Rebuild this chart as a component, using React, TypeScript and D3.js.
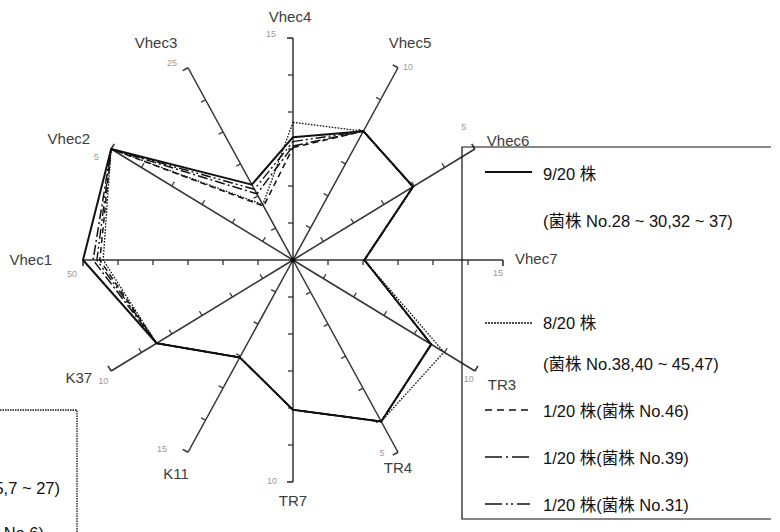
import React from "react";
import * as d3 from "d3";

// Radar axes, clockwise from the top, with the full-scale value of each axis
const axisNames = ["Vhec4", "Vhec5", "Vhec6", "Vhec7", "TR3", "TR4", "TR7", "K11", "K37", "Vhec1", "Vhec2", "Vhec3"];
const axisMax = [15, 10, 5, 15, 10, 5, 10, 15, 10, 50, 5, 25];

// Profiles of each strain group, one value per axis
const group9of20 = [8.3, 6.7, 3.3, 5.1, 7.6, 4.2, 6.75, 7.6, 7.5, 50, 5, 9.8];
const group8of20 = [9.3, 6.7, 3.3, 5.1, 8.3, 4.2, 6.75, 7.6, 7.5, 45.2, 5, 7.2];
const strain46 = [7.6, 6.7, 3.3, 5.1, 7.6, 4.2, 6.75, 7.6, 7.5, 46, 5, 7.0];
const strain39 = [7.7, 6.7, 3.3, 5.1, 7.6, 4.2, 6.75, 7.6, 7.5, 47.6, 5, 8.6];
const strain31 = [8.0, 6.7, 3.3, 5.1, 7.6, 4.2, 6.75, 7.6, 7.5, 46.7, 5, 9.2];

const legendTitles = ["9/20 株", "8/20 株", "1/20 株(菌株 No.46)", "1/20 株(菌株 No.39)", "1/20 株(菌株 No.31)"];
const legendNotes = ["(菌株 No.28 ~ 30,32 ~ 37)", "(菌株 No.38,40 ~ 45,47)"];

const W = 780;
const H = 532;
const cx = 293;
const cy = 260;
const rx = 210;
const ry = 222;
const FONT = "'Liberation Sans', Arial, 'Noto Sans CJK JP', sans-serif";

// label placement relative to each axis end: [dx, dy, anchor]
const nameOffset: [number, number, string][] = [
  [-3, -16, "middle"], [12, -20, "middle"], [12, -3, "start"], [12, 4, "start"],
  [13, 19, "start"], [0, 21, "middle"], [0, 24, "middle"], [-12, 27, "middle"],
  [-19, 12, "end"], [-31, 5, "end"], [-21, -5, "end"], [-32, -20, "middle"],
];
const maxOffset: [number, number, string][] = [
  [-17, -1, "end"], [5, 2, "start"], [-11, -19, "middle"], [-5, 16, "middle"],
  [-6, 11, "middle"], [-16, 4, "middle"], [-16, 2, "end"], [-26, 0, "middle"],
  [-13, 13, "start"], [-11, 17, "middle"], [-15, 11, "middle"], [-16, -2, "middle"],
];
// side on which tick marks sit for each of the six diameter lines
const tickSide = [1, 1, 1, -1, 1, -1];

export default function App() {
  const n = axisNames.length;
  const angle = d3.scaleLinear().domain([0, n]).range([0, 2 * Math.PI]);
  const frac = axisMax.map((m) => d3.scaleLinear().domain([0, m]).range([0, 1]));
  const pt = (i: number, f: number): [number, number] => [
    cx + rx * f * Math.sin(angle(i)),
    cy - ry * f * Math.cos(angle(i)),
  ];
  const polygon = d3.line<[number, number]>().curve(d3.curveLinearClosed);
  const shape = (vals: number[]) => polygon(vals.map((v, i) => pt(i, frac[i](v)))) || "";

  const series = [
    { values: group8of20, dash: "1.6 1.4", width: 1.3 },
    { values: strain46, dash: "6 4", width: 1.5 },
    { values: strain39, dash: "10 3 2 3", width: 1.5 },
    { values: strain31, dash: "10 3 2 3 2 3", width: 1.4 },
    { values: group9of20, dash: "", width: 2 },
  ];

  // axis lines, ticks, end hooks
  const axisEls: React.ReactNode[] = [];
  axisNames.forEach((name, i) => {
    const end = pt(i, 1);
    const base = i % 6;
    const bx = rx * Math.sin(angle(base));
    const by = -ry * Math.cos(angle(base));
    const len = Math.hypot(bx, by);
    const nx = (by / len) * tickSide[base];
    const ny = (-bx / len) * tickSide[base];
    axisEls.push(
      <line key={"ax" + i} x1={cx} y1={cy} x2={end[0]} y2={end[1]} stroke="#333" strokeWidth={1.5} />
    );
    d3.range(1, 7).forEach((k) => {
      const p = pt(i, k / 6);
      const tl = k === 6 ? 6 : 5;
      axisEls.push(
        <line key={`t${i}-${k}`} x1={p[0]} y1={p[1]} x2={p[0] + nx * tl} y2={p[1] + ny * tl}
          stroke="#333" strokeWidth={k === 6 ? 1.6 : 1.3} />
      );
    });
    const [dx, dy, anchor] = nameOffset[i];
    axisEls.push(
      <text key={"nm" + i} x={end[0] + dx} y={end[1] + dy} textAnchor={anchor as any}
        fontSize={15} fill="#3c3c3c" fontFamily={FONT}>{name}</text>
    );
    const [mx, my, ma] = maxOffset[i];
    axisEls.push(
      <text key={"mx" + i} x={end[0] + mx} y={end[1] + my} textAnchor={ma as any}
        fontSize={9} fill="#9a9a9a" fontFamily={FONT}>{axisMax[i]}</text>
    );
  });

  const sampleDash = ["", "2 1", "7 5", "17 4 2 4 17", "17 4 2 3 2 4 13"];
  const sampleY = [172, 323, 410, 457, 504];
  const titleY = [180, 329, 417, 464, 511];
  const noteY = [227, 370];

  return (
    <svg width={W} height={H} style={{ position: "absolute", left: 0, top: 0, background: "#fff" }}>
      <rect x={0} y={0} width={W} height={H} fill="#fff" />
      {axisEls}
      <circle cx={cx} cy={cy} r={2.5} fill="#111" />
      {series.map((s, i) => (
        <path key={"s" + i} d={shape(s.values)} fill="none" stroke="#111"
          strokeWidth={s.width} strokeDasharray={s.dash || undefined} strokeLinejoin="round" />
      ))}

      {/* legend box on the right */}
      <path d="M771,147 H462 V519 H771" fill="none" stroke="#111" strokeWidth={1.2} />
      {legendTitles.map((t, i) => (
        <g key={"lg" + i}>
          <line x1={485} x2={532} y1={sampleY[i]} y2={sampleY[i]} stroke="#111"
            strokeWidth={i === 0 ? 1.8 : 1.3} strokeDasharray={sampleDash[i] || undefined} />
          <text x={543} y={titleY[i]} fontSize={16.5} fill="#111" fontFamily={FONT}>{t}</text>
        </g>
      ))}
      {legendNotes.map((t, i) => (
        <text key={"nt" + i} x={543} y={noteY[i]} fontSize={16.5} fill="#111" fontFamily={FONT}>{t}</text>
      ))}

      {/* second legend box, lower left */}
      <path d="M0,410 H77 V540" fill="none" stroke="#111" strokeWidth={1.3} strokeDasharray="1.5 1" />
      <text x={60} y={494} textAnchor="end" fontSize={16.5} fill="#111" fontFamily={FONT}>5,7 ~ 27)</text>
      <text x={44} y={539} textAnchor="end" fontSize={16.5} fill="#111" fontFamily={FONT}>No.6)</text>
    </svg>
  );
}
